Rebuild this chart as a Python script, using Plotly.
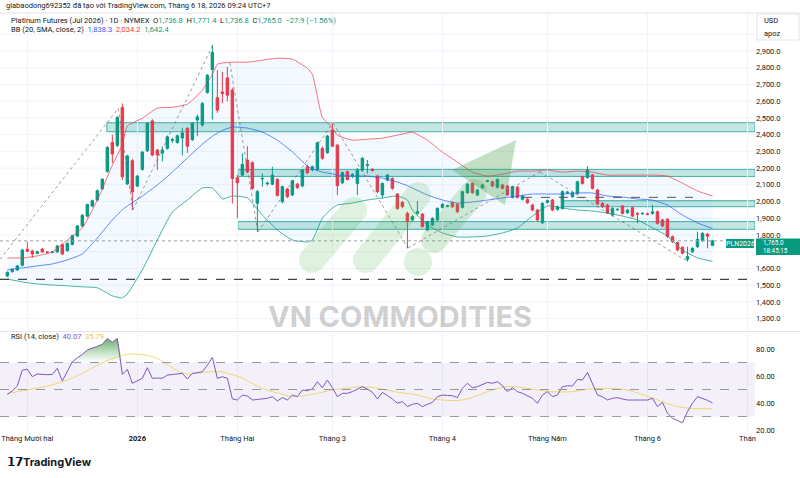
import math
import plotly.graph_objects as go

# ---------------- DATA ----------------
opens = [1555, 1581, 1591, 1619, 1715, 1704, 1690, 1716, 1698, 1696,
         1699, 1742, 1706, 1744, 1794, 1854, 1913, 1973, 2009, 2076,
         2180, 2353, 2335, 2562, 2105, 2244, 2093, 2192, 2303, 2482,
         2307, 2290, 2318, 2365, 2353, 2380, 2437, 2370, 2487, 2457,
         2652, 2789, 2620, 2655, 2739, 2666, 2142, 2158, 2248, 2232,
         1989, 2135, 2106, 2104, 2132, 1999, 2075, 2039, 2104, 2093,
         2208, 2189, 2192, 2318, 2292, 2427, 2337, 2112, 2178, 2155,
         2108, 2188, 2215, 2192, 2152, 2039, 2128, 2138, 2045, 1995,
         1929, 1890, 1929, 1925, 1830, 1860, 1890, 1965, 1971, 1993,
         1983, 1965, 2053, 2108, 2039, 2083, 2120, 2118, 2085, 2099,
         2093, 2025, 2085, 2013, 2013, 1979, 1949, 1873, 1995, 2009,
         1953, 1959, 2052, 2029, 2049, 2148, 2144, 2158, 2069, 1989,
         1979, 1919, 1951, 1973, 1933, 1963, 1929, 1927, 1926, 1929,
         1939, 1890, 1894, 1790, 1754, 1726, 1655, 1700, 1730, 1766,
         1805, 1736.8]
highs = [1582, 1600, 1620, 1718, 1760, 1712, 1706, 1722, 1704, 1703,
         1740, 1748, 1756, 1802, 1860, 1925, 1988, 2012, 2072, 2140,
         2332, 2400, 2510, 2586, 2280, 2255, 2160, 2302, 2475, 2492,
         2315, 2330, 2395, 2380, 2400, 2440, 2445, 2475, 2520, 2595,
         2762, 2934, 2785, 2775, 2805, 2680, 2160, 2288, 2331, 2240,
         2070, 2168, 2120, 2208, 2140, 2095, 2082, 2130, 2112, 2195,
         2220, 2215, 2358, 2330, 2398, 2467, 2345, 2180, 2185, 2170,
         2200, 2265, 2248, 2200, 2160, 2115, 2165, 2145, 2050, 2003,
         1940, 1918, 2003, 1932, 1885, 1906, 1965, 1990, 1980, 2000,
         1990, 2065, 2110, 2115, 2075, 2105, 2130, 2125, 2138, 2106,
         2100, 2095, 2092, 2040, 2020, 1986, 1955, 1995, 2012, 2016,
         1976, 2066, 2062, 2060, 2125, 2155, 2212, 2165, 2076, 1996,
         1986, 1966, 1960, 1980, 1956, 1970, 1936, 1935, 1933, 1979,
         1946, 1897, 1900, 1797, 1761, 1733, 1730, 1727, 1820, 1816,
         1812, 1771.4]
lows = [1548, 1575, 1585, 1612, 1698, 1663, 1684, 1693, 1690, 1690,
        1694, 1680, 1700, 1738, 1788, 1848, 1905, 1965, 2002, 2068,
        2172, 2230, 2325, 2128, 2098, 1949, 2085, 2185, 2296, 2270,
        2188, 2240, 2310, 2350, 2345, 2275, 2290, 2362, 2390, 2448,
        2645, 2490, 2530, 2587, 2600, 1989, 1900, 2150, 2170, 2070,
        1820, 2089, 2095, 2098, 2030, 1990, 2020, 2032, 2075, 2085,
        2165, 2180, 2185, 2250, 2285, 2325, 2039, 2105, 2125, 2140,
        2039, 2180, 2168, 2180, 2050, 2020, 2120, 2070, 1950, 1960,
        1720, 1880, 1922, 1845, 1822, 1855, 1884, 1958, 1965, 1962,
        1932, 1958, 2046, 2046, 2032, 2076, 2115, 2086, 2078, 2072,
        2032, 2018, 2018, 2006, 1986, 1942, 1880, 1866, 1988, 1942,
        1946, 1952, 2045, 2022, 2042, 2101, 2137, 2072, 1978, 1962,
        1926, 1912, 1945, 1922, 1926, 1906, 1870, 1920, 1918, 1922,
        1863, 1847, 1783, 1753, 1703, 1684, 1641, 1693, 1723, 1759,
        1720, 1736.8]
closes = [1577, 1595, 1615, 1710, 1703, 1687, 1700, 1699, 1697, 1698,
          1734, 1687, 1750, 1796, 1854, 1918, 1981, 2005, 2065, 2133,
          2323, 2284, 2503, 2148, 2272, 2058, 2152, 2295, 2467, 2278,
          2278, 2307, 2387, 2370, 2393, 2410, 2331, 2467, 2506, 2586,
          2755, 2891, 2546, 2645, 2636, 2138, 2112, 2222, 2178, 2079,
          2059, 2138, 2110, 2158, 2037, 2089, 2029, 2124, 2083, 2188,
          2172, 2208, 2351, 2258, 2391, 2331, 2095, 2172, 2132, 2160,
          2188, 2258, 2220, 2185, 2059, 2108, 2158, 2079, 1959, 1970,
          1880, 1910, 1939, 1850, 1880, 1900, 1959, 1983, 1975, 1969,
          1939, 2059, 2104, 2053, 2069, 2099, 2124, 2093, 2132, 2079,
          2039, 2089, 2025, 2033, 1993, 1949, 1890, 1989, 2005, 1949,
          1969, 2059, 2056, 2053, 2118, 2108, 2188, 2079, 1985, 1969,
          1933, 1959, 1953, 1929, 1949, 1913, 1925, 1929, 1924, 1939,
          1870, 1854, 1790, 1760, 1710, 1691, 1671, 1720, 1774, 1810,
          1793, 1765.0]
bars = list(range(len(opens)))

# Bollinger Bands (20, SMA, 2)
bb_idx = [0, 3, 6, 9, 12, 15, 18, 21, 23, 24, 27, 30, 33, 36, 39, 41, 42, 43, 45, 48,
          51, 54, 57, 60, 61, 63, 65, 66, 69, 72, 75, 78, 80, 81, 84, 87, 90, 93, 96, 99,
          102, 105, 108, 111, 114, 117, 120, 123, 126, 129, 132, 135, 138, 141]
bb_upper = [1663, 1663, 1675, 1699, 1770, 1842, 2009, 2218, 2340, 2451, 2498, 2558, 2564, 2582, 2666, 2760, 2821, 2828, 2833, 2833,
            2845, 2857, 2851, 2797, 2760, 2504, 2440, 2397, 2367, 2373, 2379, 2397, 2410, 2415, 2367, 2296, 2236, 2176, 2152, 2164,
            2182, 2182, 2188, 2176, 2182, 2176, 2158, 2158, 2158, 2158, 2152, 2110, 2063, 2034.2]
bb_basis = [1591, 1603, 1615, 1627, 1651, 1687, 1782, 1890, 1950, 1973, 2033, 2099, 2176, 2260, 2343, 2390, 2409, 2425, 2445, 2439,
            2415, 2367, 2296, 2212, 2195, 2176, 2165, 2158, 2152, 2152, 2140, 2116, 2095, 2081, 2039, 2009, 1991, 1997, 2009, 2021,
            2033, 2045, 2045, 2045, 2051, 2051, 2033, 2027, 2015, 2009, 1979, 1919, 1872, 1838.3]
bb_lower = [1537, 1519, 1507, 1501, 1496, 1490, 1484, 1436, 1424, 1448, 1591, 1770, 1937, 2009, 2081, 2081, 2050, 2015, 2033, 2021,
            1919, 1830, 1770, 1758, 1770, 1901, 1960, 1979, 1991, 2009, 2021, 2033, 2009, 1949, 1860, 1812, 1788, 1788, 1794, 1812,
            1842, 1913, 1973, 1961, 1949, 1943, 1931, 1913, 1890, 1842, 1794, 1710, 1663, 1642.4]

# RSI (14) and its moving average
rsi = [46.4, 49.0, 52.6, 64.4, 65.0, 59.5, 61.5, 61.2, 61.0, 61.2,
       65.7, 56.3, 63.2, 70.6, 73.5, 76.0, 79.3, 80.5, 82.0, 83.5,
       87.9, 85.0, 87.9, 61.2, 65.0, 54.6, 56.5, 58.3, 66.2, 58.3,
       58.5, 58.3, 60.7, 61.2, 61.5, 62.0, 57.8, 62.0, 62.5, 63.2,
       68.1, 73.8, 58.3, 59.5, 58.3, 43.0, 42.2, 45.9, 45.2, 42.2,
       42.6, 43.0, 43.5, 44.7, 41.5, 44.0, 42.2, 45.9, 44.7, 49.6,
       49.1, 50.5, 55.8, 51.4, 57.0, 51.4, 44.7, 47.2, 47.2, 48.4,
       50.5, 52.1, 50.4, 47.9, 43.0, 47.9, 45.5, 43.0, 39.8, 41.0,
       37.3, 39.0, 39.8, 37.3, 39.0, 40.5, 44.7, 45.9, 45.6, 45.4,
       44.0, 50.9, 54.6, 51.4, 52.1, 53.5, 55.3, 54.6, 55.8, 52.8,
       48.4, 51.4, 48.4, 47.2, 45.5, 43.5, 39.8, 45.9, 48.4, 44.7,
       45.9, 52.1, 52.8, 52.6, 57.5, 57.0, 62.7, 54.6, 45.9, 44.7,
       42.2, 43.5, 44.0, 43.0, 42.2, 42.2, 42.2, 42.2, 42.2, 43.5,
       37.3, 40.5, 32.4, 28.7, 26.9, 25.4, 33.6, 39.8, 44.7, 43.5,
       42.0, 40.07]
rsi_ma_idx = [0, 3, 6, 9, 12, 15, 18, 21, 24, 27, 30, 32, 34, 36, 38, 40, 43, 45, 47, 50,
              52, 55, 57, 60, 63, 65, 68, 71, 74, 78, 82, 85, 88, 90, 93, 96, 100, 104, 108, 113,
              116, 120, 124, 126, 128, 130, 132, 134, 136, 138, 141]
rsi_ma = [47.0, 49.0, 51.0, 53.5, 57.0, 62.0, 68.0, 73.0, 76.0, 75.8, 73.0, 68.5, 64.0, 61.5, 62.0, 63.0, 63.0, 61.0, 58.5, 52.5,
          49.6, 46.5, 44.8, 45.8, 48.0, 49.6, 51.0, 52.1, 51.0, 48.0, 45.9, 43.0, 42.0, 41.8, 44.0, 48.4, 52.1, 50.9, 48.6, 48.4,
          50.2, 50.9, 49.6, 47.5, 45.0, 42.2, 39.5, 37.3, 36.3, 35.8, 35.79]

month_ticks = [4, 26, 46, 65, 87, 108, 128, 148]
month_labels = ["Tháng Mười hai", "<b>2026</b>", "Tháng Hai", "Tháng 3", "Tháng 4", "Tháng Năm", "Tháng 6", "Thán"]
price_ticks = [1300, 1400, 1500, 1600, 1800, 1900, 2000, 2100, 2200, 2300, 2400, 2500, 2600, 2700, 2800, 2900]
grid_prices = [1300, 1400, 1500, 1600, 1700, 1800, 1900, 2000, 2100, 2200, 2300, 2400, 2500, 2600, 2700, 2800, 2900, 3000]
rsi_ticks = [20, 40, 60, 80]

# drawn support/resistance zones: (start bar, low price, high price)
zones = [(19.9, 2417, 2471), (46.1, 2150, 2192), (111.0, 1969, 2005), (46.1, 1834, 1880)]
# dotted trend/zigzag lines: pairs of (bar, price)
trend_lines = [((-1.46, 1654), (22.2, 2557)), ((22.2, 2557), (25.1, 1949)), ((25.1, 1949), (41.1, 2936)),
               ((44.5, 2828), (50.1, 1818)), ((50.1, 1818), (65.1, 2470)), ((65.1, 2470), (80.1, 1722)),
               ((80.1, 1722), (106.5, 2177)), ((106.5, 2177), (135.9, 1645))]
dashed_level = (103.1, 137.1, 2025)
support_level = 1535
last_close = 1765.0

# ---------------- STYLE / LAYOUT ----------------
W, H = 800, 478
PL, PR, PT, PB = 0, 45, 13, 46
PW, PH = W - PL - PR, H - PT - PB
GREEN, RED = "#089981", "#f23645"
FONT = "Roboto"
X_RANGE = [-1.46, 149.5]


def pxp(x, y):
    return x / PW, (H - PB - y) / PH


main_dom = [pxp(0, 330)[1], 1.0]
rsi_dom = [0.0, pxp(0, 333)[1]]

fig = go.Figure()

# Bollinger band fill + lines
fig.add_trace(go.Scatter(x=bb_idx, y=bb_upper, mode="lines", line=dict(color="rgba(242,54,69,0.7)", width=1, shape="spline", smoothing=0.5),
                         hoverinfo="skip", showlegend=False))
fig.add_trace(go.Scatter(x=bb_idx, y=bb_lower, mode="lines", line=dict(color="rgba(8,153,129,0.75)", width=1, shape="spline", smoothing=0.5),
                         fill="tonexty", fillcolor="rgba(33,150,243,0.055)", hoverinfo="skip", showlegend=False))
fig.add_trace(go.Scatter(x=bb_idx, y=bb_basis, mode="lines", line=dict(color="rgba(41,98,255,0.75)", width=1, shape="spline", smoothing=0.5),
                         hoverinfo="skip", showlegend=False))

# trend lines
for (a, b) in trend_lines:
    fig.add_trace(go.Scatter(x=[a[0], b[0]], y=[a[1], b[1]], mode="lines",
                             line=dict(color="rgba(90,90,90,0.75)", width=0.8, dash="dot"),
                             hoverinfo="skip", showlegend=False))

# candles
fig.add_trace(go.Candlestick(x=bars, open=opens, high=highs, low=lows, close=closes,
                             increasing=dict(line=dict(color=GREEN, width=1), fillcolor=GREEN),
                             decreasing=dict(line=dict(color=RED, width=1), fillcolor=RED),
                             whiskerwidth=0, hoverinfo="skip", showlegend=False))

# RSI band fills
fig.add_trace(go.Scatter(x=X_RANGE, y=[70, 70], mode="lines", line=dict(color="rgba(0,0,0,0)", width=0),
                         yaxis="y2", hoverinfo="skip", showlegend=False))
fig.add_trace(go.Scatter(x=X_RANGE, y=[30, 30], mode="lines", line=dict(color="rgba(0,0,0,0)", width=0),
                         fill="tonexty", fillcolor="rgba(126,87,194,0.09)", yaxis="y2", hoverinfo="skip", showlegend=False))
# overbought fill
ob_x = bars[12:24]
ob_y = [max(v, 70) for v in rsi[12:24]]
fig.add_trace(go.Scatter(x=ob_x, y=[70] * len(ob_x), mode="lines", line=dict(width=0, color="rgba(0,0,0,0)"),
                         yaxis="y2", hoverinfo="skip", showlegend=False))
fig.add_trace(go.Scatter(x=ob_x, y=ob_y, mode="lines", line=dict(width=0, color="rgba(0,0,0,0)"),
                         fill="tonexty",
                         fillgradient=dict(type="vertical", colorscale=[[0, "rgba(76,175,80,0.0)"], [1, "rgba(56,142,60,0.75)"]]),
                         yaxis="y2", hoverinfo="skip", showlegend=False))
# RSI MA and RSI
fig.add_trace(go.Scatter(x=rsi_ma_idx, y=rsi_ma, mode="lines", line=dict(color="rgba(240,200,60,0.7)", width=1, shape="spline"),
                         yaxis="y2", hoverinfo="skip", showlegend=False))
fig.add_trace(go.Scatter(x=bars, y=rsi, mode="lines", line=dict(color="#7e57c2", width=1),
                         yaxis="y2", hoverinfo="skip", showlegend=False))

shapes = []
# horizontal price grid (includes levels whose label is hidden)
for gp in grid_prices:
    shapes.append(dict(type="line", xref="paper", yref="y", x0=0, x1=1, y0=gp, y1=gp,
                       line=dict(color="#f0f3fa", width=1), layer="below"))
# zones
for (x0, lo, hi) in zones:
    shapes.append(dict(type="rect", xref="x", yref="y", x0=x0, x1=X_RANGE[1], y0=lo, y1=hi,
                       fillcolor="rgba(38,166,154,0.28)", line=dict(color="rgba(38,166,154,0.85)", width=1), layer="below"))
# horizontal levels
shapes.append(dict(type="line", xref="x", yref="y", x0=dashed_level[0], x1=dashed_level[1], y0=dashed_level[2], y1=dashed_level[2],
                   line=dict(color="#555", width=1, dash="dash")))
shapes.append(dict(type="line", xref="paper", yref="y", x0=0, x1=1, y0=support_level, y1=support_level,
                   line=dict(color="#444", width=1.2, dash="dash")))
shapes.append(dict(type="line", xref="paper", yref="y", x0=0, x1=1, y0=last_close, y1=last_close,
                   line=dict(color="#9aa0a6", width=1, dash="dot")))
# RSI level lines
for lv in (70, 50, 30):
    shapes.append(dict(type="line", xref="paper", yref="y2", x0=0, x1=1, y0=lv, y1=lv,
                       line=dict(color="#9598a1", width=1, dash="dash")))


# watermark logo
KAPPA = 0.5523


def P(x, y):
    a, b = pxp(x, y)
    return f"{a:.5f},{b:.5f}"


def capsule(x1, y1, x2, y2, r):
    dx, dy = x2 - x1, y2 - y1
    L = math.hypot(dx, dy)
    ux, uy = dx / L, dy / L
    nx, ny = -uy, ux
    A = (x1 + nx * r, y1 + ny * r)
    B = (x2 + nx * r, y2 + ny * r)
    C = (x2 - nx * r, y2 - ny * r)
    D = (x1 - nx * r, y1 - ny * r)
    E2 = (x2 + ux * r, y2 + uy * r)
    E1 = (x1 - ux * r, y1 - uy * r)
    k = KAPPA * r
    s = f"M{P(*A)} L{P(*B)} "
    s += f"C{P(B[0] + ux * k, B[1] + uy * k)} {P(E2[0] + nx * k, E2[1] + ny * k)} {P(*E2)} "
    s += f"C{P(E2[0] - nx * k, E2[1] - ny * k)} {P(C[0] + ux * k, C[1] + uy * k)} {P(*C)} "
    s += f"L{P(*D)} "
    s += f"C{P(D[0] - ux * k, D[1] - uy * k)} {P(E1[0] - nx * k, E1[1] - ny * k)} {P(*E1)} "
    s += f"C{P(E1[0] + nx * k, E1[1] + ny * k)} {P(A[0] - ux * k, A[1] - uy * k)} {P(*A)} Z"
    return s


logo_col = "rgba(76,175,80,0.18)"
shapes.append(dict(type="path", xref="paper", yref="paper", path=capsule(312, 260, 354, 210, 13),
                   fillcolor=logo_col, line=dict(width=0), layer="above"))
shapes.append(dict(type="path", xref="paper", yref="paper", path=capsule(366, 260, 418, 195, 13),
                   fillcolor=logo_col, line=dict(width=0), layer="above"))
cx0, cy0 = pxp(404, 248)
cx1, cy1 = pxp(432, 276)
shapes.append(dict(type="circle", xref="paper", yref="paper", x0=cx0, y0=cy0, x1=cx1, y1=cy1,
                   fillcolor=logo_col, line=dict(width=0), layer="above"))
shapes.append(dict(type="path", xref="paper", yref="paper", path=capsule(434, 240, 474, 192, 13),
                   fillcolor="rgba(76,175,80,0.22)", line=dict(width=0), layer="above"))
shapes.append(dict(type="path", xref="paper", yref="paper",
                   path=f"M{P(452, 170)} L{P(516, 140)} L{P(505, 205)} Z",
                   fillcolor="rgba(67,160,71,0.32)", line=dict(width=0), layer="above"))

# last price tag and symbol tag
shapes.append(dict(type="rect", xref="paper", yref="paper", x0=pxp(756, 0)[0], x1=pxp(800, 0)[0],
                   y0=pxp(0, 255)[1], y1=pxp(0, 238.5)[1], fillcolor=GREEN, line=dict(width=0), layer="above"))
shapes.append(dict(type="rect", xref="paper", yref="paper", x0=pxp(726, 0)[0], x1=pxp(754, 0)[0],
                   y0=pxp(0, 248)[1], y1=pxp(0, 239)[1], fillcolor=GREEN, line=dict(width=0), layer="above"))
# USD box
shapes.append(dict(type="rect", xref="paper", yref="paper", x0=pxp(757, 0)[0], x1=pxp(799, 0)[0],
                   y0=pxp(0, 40)[1], y1=pxp(0, 14)[1], fillcolor="white", line=dict(color="#e0e3eb", width=1), layer="above"))
# pane separator
shapes.append(dict(type="line", xref="paper", yref="paper", x0=0, x1=pxp(800, 0)[0], y0=pxp(0, 331.5)[1], y1=pxp(0, 331.5)[1],
                   line=dict(color="#e0e3eb", width=1)))
shapes.append(dict(type="line", xref="paper", yref="paper", x0=0, x1=pxp(800, 0)[0], y0=pxp(0, 13)[1], y1=pxp(0, 13)[1],
                   line=dict(color="#e0e3eb", width=1)))

annotations = []


def ann(x, y, text, size=7.5, color="#131722", xanchor="left", family=FONT):
    ax, ay = pxp(x, y)
    annotations.append(dict(x=ax, y=ay, xref="paper", yref="paper", text=text, showarrow=False,
                            xanchor=xanchor, yanchor="middle", font=dict(size=size, color=color, family=family)))


ann(4, 6, "giabaodong692352 đã tạo với TradingView.com, Tháng 6 18, 2026 09:24 UTC+7", size=7.5)
G = GREEN
ann(9, 20, "Platinum Futures (Jul 2026) · 1D · NYMEX  "
           f"O<span style='color:{G}'>1,736.8</span>  H<span style='color:{G}'>1,771.4</span>  "
           f"L<span style='color:{G}'>1,736.8</span>  C<span style='color:{G}'>1,765.0</span>  "
           f"<span style='color:{G}'>−27.9 (−1.56%)</span>", size=7.5)
ann(9, 30, "BB (20, SMA, close, 2)  <span style='color:#2962ff'>1,838.3</span>  "
           "<span style='color:#f23645'>2,034.2</span>  <span style='color:#089981'>1,642.4</span>", size=7.5)
ann(9, 336, "RSI (14, close)  <span style='color:#7e57c2'>40.07</span>  <span style='color:#e8c547'>35.79</span>", size=7.5)
ann(762, 21, "USD", size=7.5)
ann(762, 33, "apoz", size=7.5)
ann(761, 243, "1,765.0", size=6.3, color="white")
ann(761, 250.8, "18:45:15", size=6.3, color="white")
ann(740, 243.5, "PLN2026", size=7, color="white", xanchor="center")
ann(400, 316, "<b>VN COMMODITIES</b>", size=29, color="rgba(120,120,120,0.36)", xanchor="center", family="Inter")
ann(5, 462, "<b>𝟭𝟳</b>", size=12, color="#131722")
ann(21, 462, "<b>TradingView</b>", size=11, color="#131722", family="Inter")

axis_font = dict(size=7.5, color="#131722", family=FONT)
fig.update_layout(
    width=W, height=H,
    margin=dict(l=PL, r=PR, t=PT, b=PB),
    paper_bgcolor="white", plot_bgcolor="white",
    showlegend=False,
    xaxis=dict(domain=[0, 1], anchor="y2", range=X_RANGE, tickmode="array", tickvals=month_ticks, ticktext=month_labels,
               showgrid=True, gridcolor="#f0f3fa", gridwidth=1, zeroline=False, showline=False, ticks="",
               tickfont=axis_font, rangeslider=dict(visible=False), fixedrange=True),
    yaxis=dict(domain=main_dom, anchor="x", side="right", range=[1232, 3127], tickmode="array", tickvals=price_ticks,
               tickformat=",.1f", showgrid=False, zeroline=False, showline=False, ticks="",
               tickfont=axis_font),
    yaxis2=dict(domain=rsi_dom, anchor="x", side="right", range=[18.5, 91.9], tickmode="array", tickvals=rsi_ticks,
                tickformat=".2f", showgrid=False, zeroline=False, showline=False, ticks="", tickfont=axis_font),
    shapes=shapes,
    annotations=annotations,
    font=dict(family=FONT),
)

fig.write_html("out.html")
